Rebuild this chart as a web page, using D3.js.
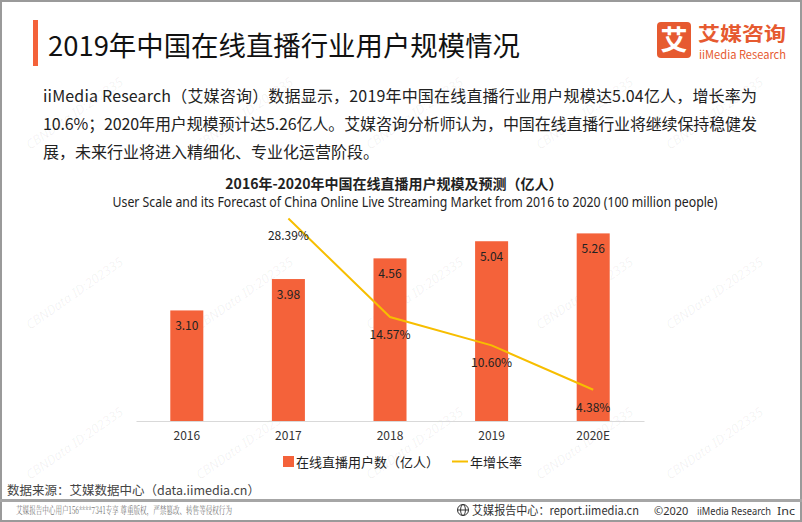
<!DOCTYPE html>
<html><head><meta charset="utf-8">
<script src="https://cdn.jsdelivr.net/npm/d3@7"></script>
<style>
html,body{margin:0;padding:0;background:#fff;}
svg{display:block;font-family:"Noto Sans CJK SC","Noto Sans",sans-serif;}
</style></head>
<body><svg id="c" width="802" height="522"></svg>
<script>
// ---- data ----
const categories = ["2016", "2017", "2018", "2019", "2020E"];
const users = [3.10, 3.98, 4.56, 5.04, 5.26];          // 在线直播用户数（亿人）
const growth = [null, 28.39, 14.57, 10.60, 4.38];      // 年增长率 (%)
const userLabels = ["3.10", "3.98", "4.56", "5.04", "5.26"];
const growthLabels = ["", "28.39%", "14.57%", "10.60%", "4.38%"];
const legendNames = ["在线直播用户数（亿人）", "年增长率"];

const ORANGE = "#F4623A", GOLD = "#F7BE00";
const svg = d3.select("#c");

// frame
svg.append("rect").attr("x",1).attr("y",1).attr("width",800).attr("height",520)
  .attr("fill","none").attr("stroke","#9a9a9a").attr("stroke-width",2);

// watermarks (faint)
const wm = svg.append("g").attr("fill","#000").attr("fill-opacity",0.06)
  .attr("font-family","Noto Sans, sans-serif").attr("font-size",13).attr("font-style","italic");
const wmPos = [[30,150],[200,150],[370,150],[540,150],[670,150],
               [30,330],[200,330],[370,330],[540,330],[670,330],
               [30,480],[200,480],[370,480],[540,480],[670,480]];
wmPos.forEach(([px,py])=>wm.append("text").attr("transform",`translate(${px},${py}) rotate(-35)`).text("CBNData ID:202335"));

// header
svg.append("rect").attr("x",33).attr("y",20).attr("width",5).attr("height",46).attr("fill",ORANGE);
svg.append("text").attr("x",48).attr("y",56).attr("font-size",27).attr("fill","#111")
  .attr("textLength",472).attr("lengthAdjust","spacingAndGlyphs")
  .text("2019年中国在线直播行业用户规模情况");

// logo
svg.append("rect").attr("x",657).attr("y",22).attr("width",34).attr("height",36).attr("rx",4).attr("fill","#E65A30");
svg.append("text").attr("x",674).attr("y",50).attr("text-anchor","middle").attr("font-size",27)
  .attr("font-weight",700).attr("fill","#fff").text("艾");
svg.append("text").attr("x",698).attr("y",41).attr("font-size",19).attr("font-weight",700)
  .attr("fill","#E65A30").attr("textLength",88).attr("lengthAdjust","spacingAndGlyphs").text("艾媒咨询");
svg.append("text").attr("x",699).attr("y",59).attr("font-size",11.5).attr("fill","#E65A30")
  .attr("textLength",87).attr("lengthAdjust","spacingAndGlyphs").text("iiMedia Research");

// paragraph
const para = [
  "iiMedia Research（艾媒咨询）数据显示，2019年中国在线直播行业用户规模达5.04亿人，增长率为",
  "10.6%；2020年用户规模预计达5.26亿人。艾媒咨询分析师认为，中国在线直播行业将继续保持稳健发",
  "展，未来行业将进入精细化、专业化运营阶段。"
];
para.forEach((t,i)=>{
  const tx = svg.append("text").attr("x",43).attr("y",102 + i*28).attr("font-size",16).attr("fill","#222").text(t);
  if (i < 2) tx.attr("textLength",714).attr("lengthAdjust","spacing");
});

// chart titles
svg.append("text").attr("x",394).attr("y",189).attr("text-anchor","middle").attr("font-size",14)
  .attr("font-weight",700).attr("fill","#222").text("2016年-2020年中国在线直播用户规模及预测（亿人）");
svg.append("text").attr("x",415).attr("y",207).attr("text-anchor","middle").attr("font-size",14)
  .attr("fill","#222").attr("font-family","Noto Sans, sans-serif")
  .attr("textLength",605).attr("lengthAdjust","spacingAndGlyphs")
  .text("User Scale and its Forecast of China Online Live Streaming Market from 2016 to 2020 (100 million people)");

// scales
const x = d3.scaleBand().domain(categories).range([136,644]).paddingInner(0.675).paddingOuter(0.3375);
const y = d3.scaleLinear().domain([0,6]).range([421,207]);
const y2 = d3.scaleLinear().domain([0,30]).range([421,207]);

// bars
svg.append("g").selectAll("rect").data(users).join("rect")
  .attr("x",(d,i)=>x(categories[i])).attr("width",x.bandwidth())
  .attr("y",d=>y(d)).attr("height",d=>y(0)-y(d)).attr("fill",ORANGE);
svg.append("g").selectAll("text").data(users).join("text")
  .attr("x",(d,i)=>x(categories[i])+x.bandwidth()/2).attr("y",d=>y(d)+20)
  .attr("text-anchor","middle").attr("font-size",12).attr("fill","#222").text((d,i)=>userLabels[i]);

// axis
const ax = svg.append("g").attr("transform",`translate(0,${y(0)})`)
  .call(d3.axisBottom(x).tickSize(0).tickPadding(10));
ax.select(".domain").attr("stroke","#d9d9d9");
ax.selectAll("text").attr("font-size",12).attr("fill","#333")
  .attr("font-family","Noto Sans CJK SC, Noto Sans, sans-serif");

// line
const pts = growth.map((g,i)=>({c:categories[i], g})).filter(d=>d.g!=null);
svg.append("path").datum(pts)
  .attr("d", d3.line().x(d=>x(d.c)+x.bandwidth()/2).y(d=>y2(d.g)))
  .attr("fill","none").attr("stroke",GOLD).attr("stroke-width",2);
svg.append("g").selectAll("text").data(pts).join("text")
  .attr("x",d=>x(d.c)+x.bandwidth()/2).attr("y",d=>y2(d.g)+22)
  .attr("text-anchor","middle").attr("font-size",12).attr("fill","#222")
  .text(d=>growthLabels[categories.indexOf(d.c)]);

// legend
const lg = svg.append("g");
lg.append("rect").attr("x",283).attr("y",456).attr("width",11).attr("height",11).attr("fill",ORANGE);
lg.append("text").attr("x",296).attr("y",467).attr("font-size",13).attr("fill","#222").text(legendNames[0]);
lg.append("line").attr("x1",452).attr("x2",468).attr("y1",461.5).attr("y2",461.5).attr("stroke",GOLD).attr("stroke-width",2);
lg.append("text").attr("x",470).attr("y",467).attr("font-size",13).attr("fill","#222").text(legendNames[1]);

// source
svg.append("text").attr("x",7).attr("y",495).attr("font-size",12.5).attr("fill","#444")
  .text("数据来源：艾媒数据中心（data.iimedia.cn）");

// footer
svg.append("rect").attr("x",0).attr("y",499).attr("width",802).attr("height",3).attr("fill","#a6a6a6");
svg.append("text").attr("x",16).attr("y",514).attr("font-size",10).attr("fill","#777")
  .attr("font-family","Noto Serif CJK SC, Noto Sans CJK SC, serif")
  .attr("textLength",216).attr("lengthAdjust","spacingAndGlyphs")
  .text("艾媒报告中心用户156****7341专享 尊重版权，严禁篡改、转售等侵权行为");
const gl = svg.append("g").attr("transform","translate(463,510)").attr("fill","none").attr("stroke","#333").attr("stroke-width",1);
gl.append("circle").attr("r",5.5);
gl.append("ellipse").attr("rx",2.4).attr("ry",5.5);
gl.append("line").attr("x1",-5.5).attr("x2",5.5);
svg.append("text").attr("x",472).attr("y",515).attr("font-size",12).attr("fill","#333")
  .attr("textLength",167).attr("lengthAdjust","spacingAndGlyphs")
  .text("艾媒报告中心：report.iimedia.cn");
svg.append("text").attr("x",654).attr("y",515).attr("font-size",11).attr("fill","#333")
  .attr("font-family","Noto Sans, sans-serif").text("©2020");
svg.append("text").attr("x",697).attr("y",515).attr("font-size",10).attr("fill","#333")
  .attr("font-family","Noto Sans, sans-serif")
  .attr("textLength",74).attr("lengthAdjust","spacingAndGlyphs").text("iiMedia Research");
svg.append("text").attr("x",795).attr("y",515).attr("text-anchor","end").attr("font-size",10).attr("fill","#333")
  .attr("font-family","Noto Sans, sans-serif")
  .attr("textLength",18).attr("lengthAdjust","spacingAndGlyphs").text("Inc");
</script></body></html>
